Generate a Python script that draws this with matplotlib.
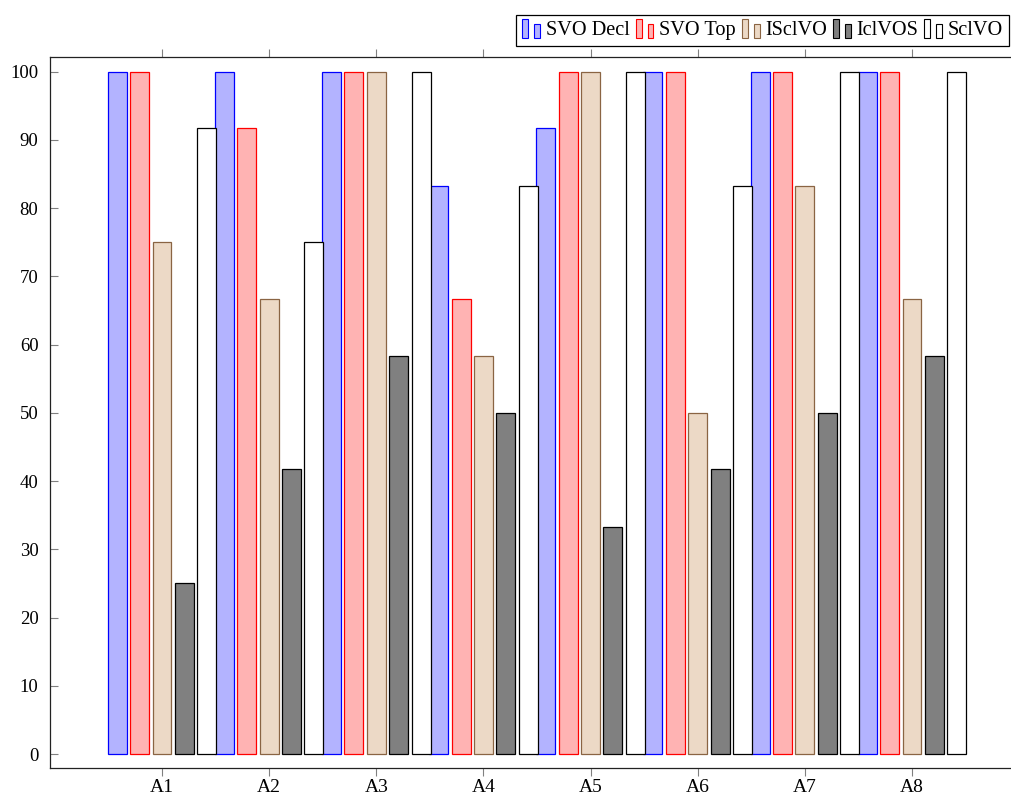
import matplotlib
matplotlib.use('Agg')
import matplotlib.pyplot as plt
import numpy as np
from matplotlib.patches import Rectangle
from matplotlib.legend_handler import HandlerBase

categories = ['A1', 'A2', 'A3', 'A4', 'A5', 'A6', 'A7', 'A8']
series_names = ['SVO Decl', 'SVO Top', 'ISclVO', 'IclVOS', 'SclVO']
svo_decl = [100, 100, 100, 83.3, 91.7, 100, 100, 100]
svo_top = [100, 91.7, 100, 66.7, 100, 100, 100, 100]
isclvo = [75, 66.7, 100, 58.3, 100, 50, 83.3, 66.7]
iclvos = [25, 41.7, 58.3, 50, 33.3, 41.7, 50, 58.3]
sclvo = [91.7, 75, 100, 83.3, 100, 83.3, 100, 100]
yticks = [0, 10, 20, 30, 40, 50, 60, 70, 80, 90, 100]

fills = ['#b3b3ff', '#ffb3b3', '#ecd9c6', '#808080', '#ffffff']
edges = ['#0000ff', '#ff0000', '#8a6443', '#000000', '#000000']

plt.rcParams['font.family'] = ['Liberation Serif', 'DejaVu Serif']


class TwoBarHandler(HandlerBase):
    """pgfplots-like ybar legend: two small bars"""
    def create_artists(self, legend, orig_handle, xdescent, ydescent,
                       width, height, fontsize, trans):
        fc = orig_handle.get_facecolor()
        ec = orig_handle.get_edgecolor()
        w = width * 0.3
        r1 = Rectangle((-xdescent, -ydescent - 2), w, height * 1.35,
                       facecolor=fc, edgecolor=ec, lw=0.8, transform=trans)
        r2 = Rectangle((-xdescent + width * 0.62, -ydescent - 2), w, height,
                       facecolor=fc, edgecolor=ec, lw=0.8, transform=trans)
        return [r1, r2]


fig = plt.figure(figsize=(10.11, 8), dpi=100)
ax = fig.add_axes([49.5 / 1011, 32 / 800, (1024.5 - 49.5) / 1011, 711 / 800])

x = np.arange(1, len(categories) + 1)
data = [svo_decl, svo_top, isclvo, iclvos, sclvo]
step = 0.209
width = 0.177
for i, vals in enumerate(data):
    ax.bar(x + (i - 2) * step, vals, width, color=fills[i], edgecolor=edges[i],
           linewidth=0.9, zorder=2)

ax.set_xlim(-0.05, 9.05)
ax.set_ylim(-2.05, 102.15)
ax.set_xticks(x)
ax.set_xticklabels(categories, fontsize=14)
ax.set_yticks(yticks)
ax.set_yticklabels([str(v) for v in yticks], fontsize=13.5)

ax.tick_params(axis='x', direction='out', length=6, width=0.8, color='#808080',
               top=True, bottom=True, pad=2)
ax.tick_params(axis='y', direction='in', length=6, width=0.8, color='#808080',
               left=True, right=True, pad=8)
for s in ax.spines.values():
    s.set_linewidth(0.9)
    s.set_color('#222222')

# legend kept fully inside the figure so no entry text is cut
proxies = [Rectangle((0, 0), 1, 1, facecolor=fills[i], edgecolor=edges[i])
           for i in range(len(series_names))]
leg = fig.legend(proxies, series_names, loc='upper right',
                 bbox_to_anchor=(1009 / 1011, 1 - 15 / 800),
                 bbox_transform=fig.transFigure, ncol=5, fontsize=14.6,
                 handler_map={Rectangle: TwoBarHandler()},
                 handlelength=0.95, handleheight=0.65, handletextpad=0.2,
                 columnspacing=0.3, borderpad=0.3, borderaxespad=0,
                 fancybox=False, framealpha=1, edgecolor='black')
leg.get_frame().set_linewidth(0.9)

plt.savefig('out.png', dpi=100)
